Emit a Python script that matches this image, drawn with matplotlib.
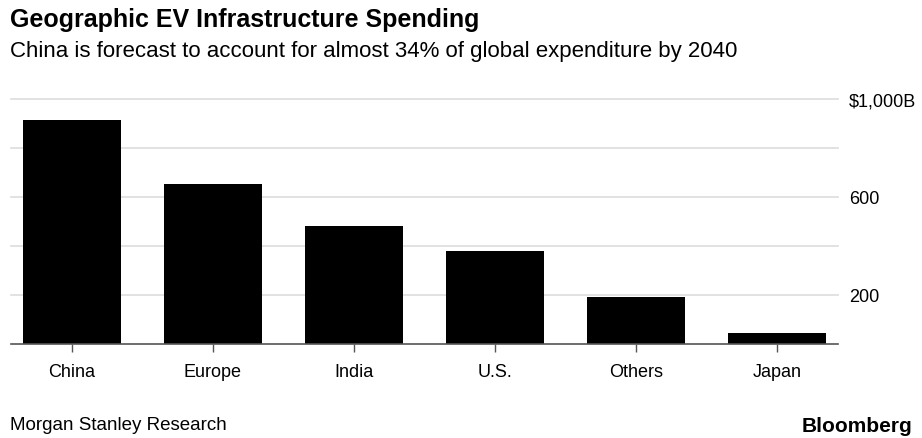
import matplotlib.pyplot as plt

plt.rcParams["font.family"] = ["Liberation Sans", "DejaVu Sans"]

regions = ["China", "Europe", "India", "U.S.", "Others", "Japan"]
spending = [915, 655, 480, 380, 190, 45]  # $B
grid_values = [200, 400, 600, 800, 1000]
label_values = [200, 600, 1000]
label_text = ["200", "600", "$1,000B"]

W, H = 922, 439
fig = plt.figure(figsize=(W / 100, H / 100), dpi=100)
ax = fig.add_axes([11 / W, (H - 345) / H, (838 - 11) / W, (345 - 100) / H])

ax.bar(range(len(regions)), spending, width=0.695, color="black", zorder=3)
ax.set_xlim(-0.43, len(regions) - 1 + 0.43)
ax.set_ylim(0, 1000)

for v in grid_values:
    ax.axhline(v, color="#dddddd", lw=1.2, zorder=1, clip_on=False)

for s in ["top", "right", "left"]:
    ax.spines[s].set_visible(False)
ax.spines["bottom"].set_color("#555555")
ax.spines["bottom"].set_linewidth(1.2)
ax.spines["bottom"].set_zorder(4)

ax.set_xticks(range(len(regions)))
ax.set_xticklabels(regions, fontsize=13)
ax.tick_params(axis="x", length=6, width=1, color="#555555", pad=8)

ax.yaxis.tick_right()
ax.set_yticks(label_values)
ax.set_yticklabels(label_text, fontsize=13)
ax.tick_params(axis="y", length=0, pad=8)

fig.text(10 / W, 1 - 20 / H, "Geographic EV Infrastructure Spending",
         fontsize=18, fontweight="bold", va="center", ha="left")
fig.text(10 / W, 1 - 51 / H,
         "China is forecast to account for almost 34% of global expenditure by 2040",
         fontsize=16, va="center", ha="left")
fig.text(10 / W, 1 - 426 / H, "Morgan Stanley Research",
         fontsize=13.5, va="center", ha="left")
fig.text(912 / W, 1 - 427 / H, "Bloomberg",
         fontsize=15, fontweight="bold", va="center", ha="right")

fig.savefig("out.png", dpi=100)
